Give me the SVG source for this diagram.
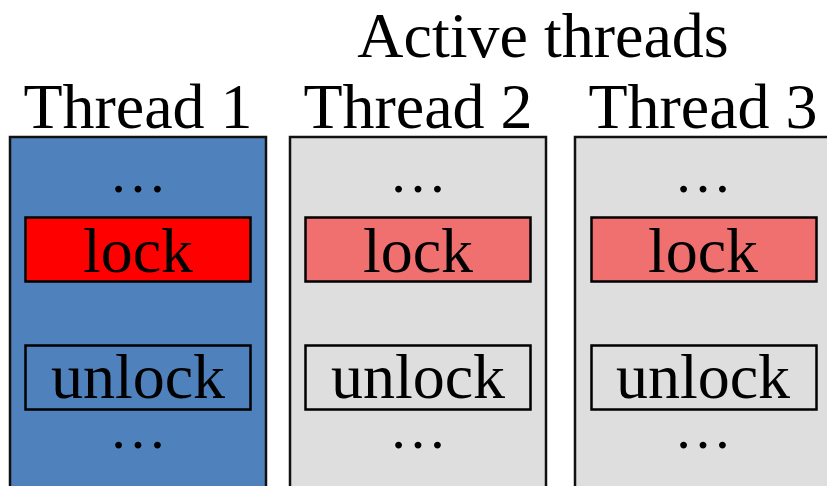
<svg xmlns="http://www.w3.org/2000/svg" width="827" height="486" viewBox="0 0 827 486">
<style>
text{font-family:"Liberation Serif","Times New Roman",serif;font-size:64px;fill:#000;text-anchor:middle}
.col{stroke:#111;stroke-width:2.5}
.box{stroke:#000;stroke-width:2.5}
.dots{font-size:58px}
</style>
<rect width="827" height="486" fill="#fff"/>
<text x="543" y="57">Active threads</text>
<g id="thread1">
<text x="138" y="128">Thread 1</text>
<rect class="col" x="10" y="137" width="256" height="360" fill="#4F81BD"/>
<text class="dots" x="138" y="192">…</text>
<rect class="box" x="25.5" y="217.5" width="225" height="64" fill="#FF0000"/>
<text x="138" y="272">lock</text>
<rect class="box" x="25.5" y="345.5" width="225" height="64" fill="none"/>
<text x="138" y="398">unlock</text>
<text class="dots" x="138" y="448">…</text>
</g>
<g id="thread2">
<text x="418" y="128">Thread 2</text>
<rect class="col" x="290" y="137" width="256" height="360" fill="#DEDEDE"/>
<text class="dots" x="418" y="192">…</text>
<rect class="box" x="305.5" y="217.5" width="225" height="64" fill="#F07070"/>
<text x="418" y="272">lock</text>
<rect class="box" x="305.5" y="345.5" width="225" height="64" fill="none"/>
<text x="418" y="398">unlock</text>
<text class="dots" x="418" y="448">…</text>
</g>
<g id="thread3">
<text x="703" y="128">Thread 3</text>
<rect class="col" x="575" y="137" width="256" height="360" fill="#DEDEDE"/>
<text class="dots" x="703" y="192">…</text>
<rect class="box" x="591.5" y="217.5" width="225" height="64" fill="#F07070"/>
<text x="703" y="272">lock</text>
<rect class="box" x="591.5" y="345.5" width="225" height="64" fill="none"/>
<text x="703" y="398">unlock</text>
<text class="dots" x="703" y="448">…</text>
</g>
<g id="connectors"></g>
</svg>
